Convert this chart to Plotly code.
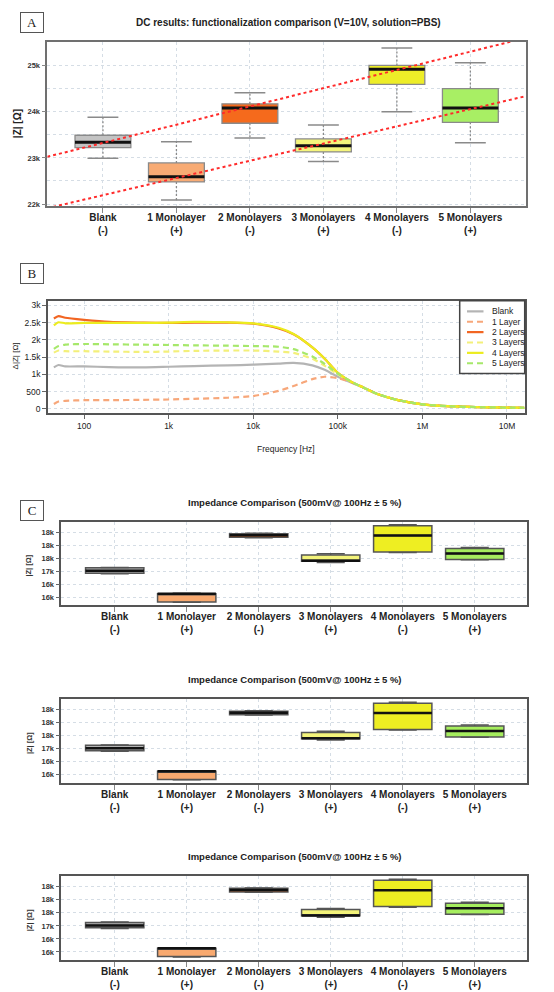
import numpy as np
import plotly.graph_objects as go

W, H = 554, 992

# ---------------- data ----------------
categories = ["Blank<br>(-)", "1 Monolayer<br>(+)", "2 Monolayers<br>(-)",
              "3 Monolayers<br>(+)", "4 Monolayers<br>(-)", "5 Monolayers<br>(+)"]
box_colors_a = ["#c3c3c3", "#f8ab74", "#f56a1c", "#f5f57c", "#eded28", "#a8ef64"]
box_colors_c = ["#b4b4b4", "#f8a96f", "#f26a1b", "#f4f47a", "#eeee22", "#a6ee5e"]

# Panel A: DC |Z| box statistics (Ohm)
dc_low = [22990, 22090, 23430, 22920, 24000, 23330]
dc_q1 = [23220, 22480, 23750, 23130, 24590, 23770]
dc_med = [23340, 22590, 24080, 23260, 24920, 24080]
dc_q3 = [23490, 22890, 24170, 23410, 25000, 24500]
dc_high = [23880, 23350, 24410, 23710, 25380, 25060]
dc_yticks = [22000, 23000, 24000, 25000]
dc_yticklabels = ["22k", "23k", "24k", "25k"]
neg_idx = [0, 2, 4]
pos_idx = [1, 3, 5]

# Panel B: delta |Z| vs frequency
freq = [44, 50, 60, 100, 200, 500, 1e3, 2e3, 5e3, 1e4, 2e4, 3e4, 5e4, 7e4,
        1e5, 1.5e5, 2e5, 3e5, 5e5, 1e6, 2e6, 5e6, 1e7, 1.6e7]
dz_blank = [1200, 1270, 1230, 1230, 1210, 1200, 1220, 1240, 1260, 1280, 1310, 1330, 1260, 1130,
            930, 740, 620, 420, 260, 130, 75, 45, 35, 30]
dz_l1 = [140, 210, 230, 250, 250, 260, 270, 290, 320, 370, 520, 660, 860, 930,
         890, 760, 620, 420, 260, 130, 75, 45, 35, 30]
dz_l2 = [2620, 2690, 2640, 2580, 2520, 2500, 2490, 2500, 2500, 2470, 2330, 2160, 1780, 1450,
         1040, 760, 620, 420, 260, 130, 75, 45, 35, 30]
dz_l3 = [1630, 1690, 1670, 1670, 1660, 1650, 1660, 1680, 1690, 1690, 1660, 1620, 1450, 1250,
         1000, 760, 620, 420, 260, 130, 75, 45, 35, 30]
dz_l4 = [2420, 2510, 2480, 2490, 2490, 2490, 2500, 2520, 2510, 2480, 2350, 2170, 1780, 1450,
         1040, 760, 620, 420, 260, 130, 75, 45, 35, 30]
dz_l5 = [1740, 1820, 1860, 1880, 1870, 1860, 1850, 1840, 1830, 1820, 1800, 1730, 1520, 1300,
         1020, 770, 620, 420, 260, 130, 75, 45, 35, 30]
series_names = ["Blank", "1 Layer", "2 Layers", "3 Layers", "4 Layers", "5 Layers"]
series_colors = ["#b4b4b4", "#f7a77a", "#f26522", "#f3f07a", "#ecec1e", "#a6e86a"]
series_dash = ["solid", "6px,4px", "solid", "6px,4px", "solid", "6px,4px"]
freq_ticks = [100, 1e3, 1e4, 1e5, 1e6, 1e7]
freq_ticklabels = ["100", "1k", "10k", "100k", "1M", "10M"]
dz_ticks = [0, 500, 1000, 1500, 2000, 2500, 3000]
dz_ticklabels = ["0", "500", "1k", "1.5k", "2k", "2.5k", "3k"]

# Panel C: impedance @100 Hz box statistics
ac_low = [16361, 15924, 16916, 16534, 16687, 16575]
ac_q1 = [16371, 15929, 16921, 16555, 16697, 16580]
ac_med = [16407, 16056, 16952, 16560, 16947, 16672]
ac_q3 = [16453, 16056, 16977, 16651, 17099, 16748]
ac_high = [16458, 16061, 16982, 16667, 17115, 16763]
ac_yticks = [16000, 16200, 16400, 16600, 16800, 17000]
ac_yticklabels = ["16k", "16k", "17k", "18k", "18k", "18k"]

# ---------------- helpers ----------------
def py(p):
    return 1 - p / H

def px(p):
    return p / W

FONT = "Liberation Sans"
fig = go.Figure()
xs = list(range(len(categories)))


def add_boxes(xa, ya, q1, med, q3, lo, hi, colors, width, linecol, lw, capw, dashed, medw):
    wx, wy, cx, cy = [], [], [], []
    for i in xs:
        wx += [i, i, None, i, i, None]
        wy += [q3[i], hi[i], None, q1[i], lo[i], None]
        cx += [i - capw / 2, i + capw / 2, None, i - capw / 2, i + capw / 2, None]
        cy += [hi[i], hi[i], None, lo[i], lo[i], None]
    fig.add_trace(go.Scatter(x=wx, y=wy, mode="lines", xaxis=xa, yaxis=ya, showlegend=False,
                             line=dict(color=linecol, width=1.3, dash="2px,2px" if dashed else "solid"),
                             hoverinfo="skip"))
    fig.add_trace(go.Scatter(x=cx, y=cy, mode="lines", xaxis=xa, yaxis=ya, showlegend=False,
                             line=dict(color=linecol, width=1.5), hoverinfo="skip"))
    for i in xs:
        fig.add_trace(go.Box(x=[i], q1=[q1[i]], median=[med[i]], q3=[q3[i]],
                             lowerfence=[q1[i]], upperfence=[q3[i]], width=width,
                             fillcolor=colors[i], line=dict(color=linecol, width=lw),
                             whiskerwidth=0, xaxis=xa, yaxis=ya, showlegend=False,
                             hoverinfo="skip"))
    mx, my = [], []
    for i in xs:
        mx += [i - width / 2, i + width / 2, None]
        my += [med[i], med[i], None]
    fig.add_trace(go.Scatter(x=mx, y=my, mode="lines", xaxis=xa, yaxis=ya, showlegend=False,
                             line=dict(color="#111111", width=medw), hoverinfo="skip"))


# ---- Panel A ----
add_boxes("x", "y", dc_q1, dc_med, dc_q3, dc_low, dc_high, box_colors_a, 0.76, "#8a8a8a", 1.3,
          0.42, True, 3)
xr_a = [-0.757, 5.757]
for grp in (neg_idx, pos_idx):
    slope, icpt = np.polyfit(grp, [dc_med[i] for i in grp], 1)
    fig.add_trace(go.Scatter(x=xr_a, y=[icpt + slope * v for v in xr_a], mode="lines",
                             xaxis="x", yaxis="y", showlegend=False, hoverinfo="skip",
                             line=dict(color="#ff2a2a", width=2, dash="dot")))

# ---- Panel B ----
for name, ys, col, dsh in zip(series_names, [dz_blank, dz_l1, dz_l2, dz_l3, dz_l4, dz_l5],
                              series_colors, series_dash):
    fig.add_trace(go.Scatter(x=freq, y=ys, mode="lines", name=name, xaxis="x2", yaxis="y2",
                             showlegend=False,
                             line=dict(color=col, width=2.2, dash=dsh, shape="spline",
                                       smoothing=0.6)))

# ---- Panel C (three copies) ----
for k in range(3):
    add_boxes(f"x{k+3}", f"y{k+3}", ac_q1, ac_med, ac_q3, ac_low, ac_high, box_colors_c, 0.81,
              "#555555", 1.5, 0.39, False, 2.5)

GRID = "#d5dde5"
cat_font = dict(family=FONT, size=10, color="#222222", weight="bold")

layout = dict(
    width=W, height=H, autosize=False, margin=dict(l=0, r=0, t=0, b=0),
    paper_bgcolor="white", plot_bgcolor="white",
    font=dict(family=FONT, color="#222222"),
    showlegend=False,
)

def cat_xaxis(dom, rng, anchor):
    return dict(domain=dom, range=rng, anchor=anchor, tickmode="array", tickvals=xs,
                ticktext=categories, tickfont=cat_font, showgrid=True, gridcolor=GRID,
                griddash="dot", ticks="outside", ticklen=5, tickcolor="#888888",
                showline=True, mirror=True, linecolor="#707070", linewidth=1.5,
                zeroline=False, ticklabelstandoff=-4)

# A axes
layout["xaxis"] = cat_xaxis([px(39.3), px(518)], xr_a, "y")
layout["yaxis"] = dict(domain=[py(198), py(33)], range=[21950, 25510], anchor="x",
                       tickmode="array", tickvals=dc_yticks, ticktext=dc_yticklabels,
                       tickfont=dict(family=FONT, size=7.5, color="#333333", weight="bold"),
                       showgrid=True, gridcolor=GRID, griddash="dot",
                       minor=dict(dtick=500, tick0=0, showgrid=True, gridcolor=GRID, griddash="dot"),
                       ticks="outside", ticklen=4, tickcolor="#888888",
                       showline=True, mirror=True, linecolor="#707070", linewidth=1.5,
                       zeroline=False)
# B axes
layout["xaxis2"] = dict(domain=[px(40), px(517)], type="log", range=[1.574, 7.213], anchor="y2",
                        tickmode="array", tickvals=freq_ticks, ticktext=freq_ticklabels,
                        tickfont=dict(family=FONT, size=8.5, color="#222222"),
                        showgrid=True, gridcolor=GRID, griddash="dot",
                        ticks="outside", ticklen=4, tickcolor="#666666",
                        showline=True, mirror=True, linecolor="#555555", linewidth=1.5,
                        zeroline=False)
layout["yaxis2"] = dict(domain=[py(405.7), py(293.3)], range=[-136, 3115], anchor="x2",
                        tickmode="array", tickvals=dz_ticks, ticktext=dz_ticklabels,
                        tickfont=dict(family=FONT, size=8.5, color="#222222"),
                        showgrid=True, gridcolor=GRID, griddash="dot",
                        ticks="outside", ticklen=4, tickcolor="#666666",
                        showline=True, mirror=True, linecolor="#555555", linewidth=1.5,
                        zeroline=False)
# C axes
c_tops = [514.3, 692.3, 870.0]
for k, top in enumerate(c_tops):
    xa, ya = f"xaxis{k+3}", f"yaxis{k+3}"
    ax = cat_xaxis([px(53.3), px(519)], [-0.742, 5.726], f"y{k+3}")
    ax["linecolor"] = "#555555"
    layout[xa] = ax
    layout[ya] = dict(domain=[py(top + 84), py(top)], range=[15875, 17160], anchor=f"x{k+3}",
                      tickmode="array", tickvals=ac_yticks, ticktext=ac_yticklabels,
                      tickfont=dict(family=FONT, size=7.5, color="#333333", weight="bold"),
                      showgrid=True, gridcolor=GRID, griddash="dot",
                      ticks="outside", ticklen=4, tickcolor="#666666",
                      showline=True, mirror=True, linecolor="#555555", linewidth=1.5,
                      zeroline=False)

fig.update_layout(**layout)

ann = []
shapes = []
# legend for panel B (drawn in paper space)
leg_left, leg_right, leg_top, leg_bot = 451.7, 516.7, 292.7, 365.7
shapes.append(dict(type="rect", xref="paper", yref="paper", x0=px(leg_left), x1=px(leg_right),
                   y0=py(leg_bot), y1=py(leg_top), line=dict(color="#444444", width=1.5),
                   fillcolor="white", layer="above"))
for i, (name, col, dsh) in enumerate(zip(series_names, series_colors, series_dash)):
    yc = 303.3 + 10.4 * i
    shapes.append(dict(type="line", xref="paper", yref="paper", x0=px(459), x1=px(475.5),
                       y0=py(yc), y1=py(yc), line=dict(color=col, width=2.2, dash=dsh),
                       layer="above"))
    ann.append(dict(text=name, x=px(481.5), y=py(yc), xref="paper", yref="paper",
                    showarrow=False, xanchor="left", yanchor="middle",
                    font=dict(family=FONT, size=8.5, color="#222")))
# panel letters
for letter, cy in (("A", 13.5), ("B", 265), ("C", 503.3)):
    ann.append(dict(text=letter, x=px(24.2), y=py(cy), xref="paper", yref="paper",
                    showarrow=False, font=dict(family="Liberation Serif", size=13, color="#222"),
                    bordercolor="#555555", borderwidth=1, width=20, height=17,
                    xanchor="center", yanchor="middle", bgcolor="white"))
# titles
ann.append(dict(text="DC results: functionalization comparison (V=10V, solution=PBS)",
                x=px(280), y=py(14), xref="paper", yref="paper", showarrow=False,
                font=dict(family=FONT, size=10, color="#222", weight="bold"),
                xanchor="center", yanchor="middle"))
for top in c_tops:
    ann.append(dict(text="Impedance Comparison (500mV@ 100Hz ± 5 %)",
                    x=px(287), y=py(top - 19.6), xref="paper", yref="paper", showarrow=False,
                    font=dict(family=FONT, size=9.5, color="#222", weight="bold"),
                    xanchor="center", yanchor="middle"))
    ann.append(dict(text="|Z| [Ω]", x=px(21), y=py(top + 44), xref="paper", yref="paper",
                    showarrow=False, textangle=-90,
                    font=dict(family=FONT, size=7.5, color="#333", weight="bold"),
                    xanchor="center", yanchor="middle"))
ann.append(dict(text="|Z| [Ω]", x=px(9.5), y=py(115), xref="paper", yref="paper",
                showarrow=False, textangle=-90,
                font=dict(family=FONT, size=10, color="#222", weight="bold"),
                xanchor="center", yanchor="middle"))
ann.append(dict(text="Δ|Z| [Ω]", x=px(7.5), y=py(348), xref="paper", yref="paper",
                showarrow=False, textangle=-90,
                font=dict(family=FONT, size=8, color="#222"),
                xanchor="center", yanchor="middle"))
ann.append(dict(text="Frequency [Hz]", x=px(278), y=py(441.7), xref="paper", yref="paper",
                showarrow=False, font=dict(family=FONT, size=8.5, color="#222"),
                xanchor="center", yanchor="middle"))
fig.update_layout(annotations=ann, shapes=shapes)

fig.write_html("out.html")
